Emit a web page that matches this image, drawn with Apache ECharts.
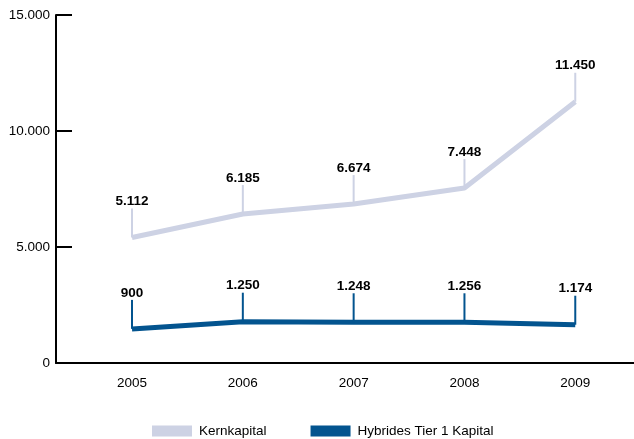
<!DOCTYPE html>
<html><head><meta charset="utf-8">
<script src="https://cdn.jsdelivr.net/npm/echarts@6/dist/echarts.min.js"></script>
<style>html,body{margin:0;padding:0;background:#fff}#c{width:634px;height:439px}</style>
</head><body><div id="c"></div>
<script>
// Data
var years = [2005, 2006, 2007, 2008, 2009];
// line positions as drawn in the picture
var kernLine = [5410, 6420, 6850, 7540, 11260];
var hybLine = [1470, 1780, 1755, 1755, 1650];
// printed value labels
var kernLabels = [5112, 6185, 6674, 7448, 11450];
var hybLabels = [900, 1250, 1248, 1256, 1174];
var yTicks = [0, 5000, 10000, 15000];

var KERN = '#cdd2e4', HYB = '#03548f';
function fmt(v){ return String(v).replace(/\B(?=(\d{3})+(?!\d))/g, '.'); }
function pairs(vals){ return years.map(function(y,i){ return [y, vals[i]]; }); }
function labelSeries(vals, labels, color){
  return {
    type: 'custom', silent: true, z: 3,
    data: years.map(function(y,i){ return [y, vals[i], labels[i]]; }),
    renderItem: function(params, api){
      var p = api.coord([api.value(0), api.value(1)]);
      return {
        type: 'group',
        children: [
          {type:'line', shape:{x1:p[0], y1:p[1], x2:p[0], y2:p[1]-29}, style:{stroke:color, lineWidth:2}},
          {type:'text', style:{x:p[0], y:p[1]-36, text: fmt(api.value(2)), align:'center', verticalAlign:'middle',
            fill:'#000', font:'bold 13.5px "Liberation Sans", Arial, sans-serif'}}
        ]
      };
    }
  };
}

var chart = echarts.init(document.getElementById('c'));
chart.setOption({
  animation: false,
  backgroundColor: '#fff',
  grid: {left: 56, right: 0, top: 15, bottom: 76},
  legend: {
    left: 152, top: 424, padding: 0, icon: 'rect', itemWidth: 40, itemHeight: 11, itemGap: 44,
    textStyle: {fontFamily: 'Liberation Sans', fontSize: 13.5, color: '#000', padding: [0,0,0,2]},
    data: ['Kernkapital', 'Hybrides Tier 1 Kapital']
  },
  xAxis: {
    type: 'value', min: 2004.314, max: 2009.53,
    axisLine: {lineStyle: {color: '#000', width: 2}},
    axisTick: {show: false}, splitLine: {show: false},
    axisLabel: {customValues: years, margin: 13, color: '#000', fontFamily: 'Liberation Sans', fontSize: 13.5,
      formatter: function(v){ return String(Math.round(v)); }}
  },
  yAxis: {
    type: 'value', min: 0, max: 15000, interval: 5000,
    axisLine: {show: true, lineStyle: {color: '#000', width: 2}},
    axisTick: {show: true, inside: true, length: 16, lineStyle: {color: '#000', width: 2}},
    splitLine: {show: false},
    axisLabel: {customValues: yTicks, margin: 6, color: '#000', fontFamily: 'Liberation Sans', fontSize: 13.5,
      formatter: function(v){ return fmt(v); }}
  },
  series: [
    {name: 'Kernkapital', type: 'line', data: pairs(kernLine), symbol: 'none', color: KERN,
      lineStyle: {width: 5, color: KERN, join: 'round'}, z: 2},
    {name: 'Hybrides Tier 1 Kapital', type: 'line', data: pairs(hybLine), symbol: 'none', color: HYB,
      lineStyle: {width: 5, color: HYB, join: 'round'}, z: 2},
    labelSeries(kernLine, kernLabels, KERN),
    labelSeries(hybLine, hybLabels, HYB)
  ]
});
</script></body></html>
